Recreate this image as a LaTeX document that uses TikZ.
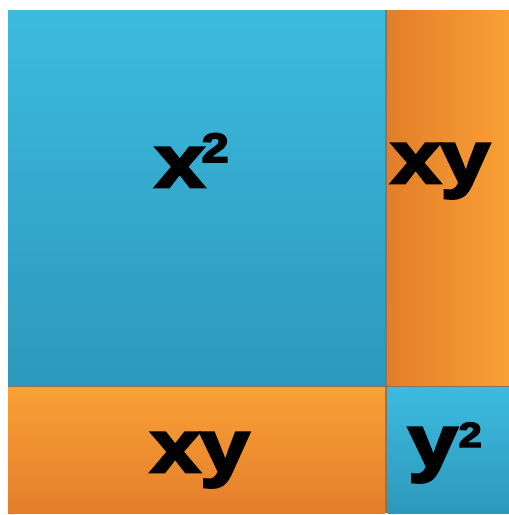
\documentclass[tikz,border=0pt]{standalone}
\usepackage{fontspec}
\setmainfont{Liberation Sans}[BoldFeatures={FakeBold=4,FakeStretch=1.2}]
\definecolor{bluetop}{HTML}{3CBBDF}
\definecolor{bluebot}{HTML}{2D98BB}
\definecolor{orgA}{HTML}{E37E2A}
\definecolor{orgB}{HTML}{F9A036}
\definecolor{gapc}{HTML}{8A7458}
\tikzset{
  tile/.style={draw=none},
  lbl/.style={font=\fontsize{74}{74}\selectfont\bfseries, text=black, inner sep=0pt, anchor=base},
}
\newcommand{\sqtwo}[3]{\kern#3\raisebox{#1}{\fontsize{#2}{#2}\selectfont\bfseries 2}}
\begin{document}
\begin{tikzpicture}[x=1pt,y=-1pt]
\useasboundingbox (0,0) rectangle (509,515);
\fill[white] (0,0) rectangle (509,515);
\fill[gapc] (8,10) rectangle (509,513);
% blue big
\shade[tile, top color=bluetop, bottom color=bluebot] (8,10) rectangle (385,385);
% right orange
\shade[tile, left color=orgA, right color=orgB] (387.5,10) rectangle (509,385);
% bottom orange
\shade[tile, top color=orgB, bottom color=orgA] (8,387.5) rectangle (385,513);
% small blue
\shade[tile, top color=bluetop, bottom color=bluebot] (387.5,387.5) rectangle (509,513);
\node[lbl] (xsq) at (192,187) {x\sqtwo{25pt}{41}{-3pt}};
\node[lbl] (xyr) at (440.5,183) {xy};
\node[lbl] (xyb) at (200,472) {xy};
\node[lbl] (ysq) at (445,467) {y\sqtwo{20pt}{35}{1pt}};
\end{tikzpicture}
\end{document}
